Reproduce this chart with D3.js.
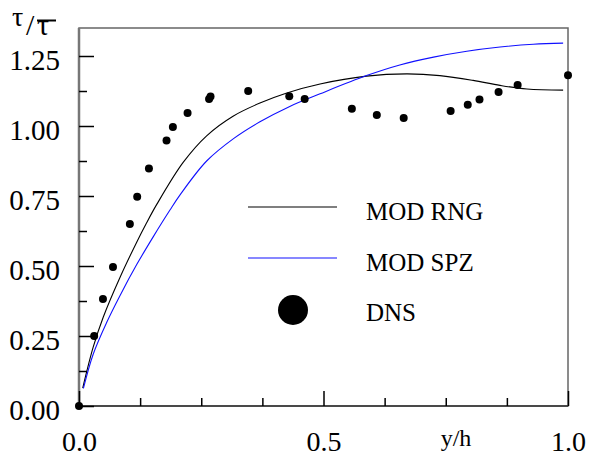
<!DOCTYPE html>
<html>
<head>
<script src="https://d3js.org/d3.v7.min.js"></script>
</head>
<body style="margin:0">
  <script>
    // DNS points (y/h, tau/taubar)
    var dnsX = [0, 0.031, 0.049, 0.0695, 0.104, 0.119, 0.143, 0.179, 0.192, 0.222, 0.266, 0.269,
                0.346, 0.430, 0.4615, 0.558, 0.609, 0.664, 0.760, 0.795, 0.819, 0.858, 0.897, 1.0];
    var dnsY = [0, 0.25, 0.382, 0.496, 0.65, 0.747, 0.848, 0.948, 0.996, 1.046, 1.096, 1.105,
                1.125, 1.106, 1.096, 1.062, 1.039, 1.029, 1.054, 1.076, 1.095, 1.121, 1.146, 1.181];

    // MOD RNG curve
    var rngX = [0.0076, 0.029, 0.0497, 0.084, 0.118, 0.137, 0.159, 0.213, 0.261, 0.315, 0.370,
                0.425, 0.493, 0.588, 0.670, 0.738, 0.806, 0.861, 0.916, 0.990];
    var rngY = [0.064, 0.210, 0.318, 0.460, 0.585, 0.650, 0.720, 0.870, 0.965, 1.035, 1.082,
                1.118, 1.150, 1.178, 1.186, 1.180, 1.163, 1.145, 1.132, 1.128];

    // MOD SPZ curve
    var spzX = [0.009, 0.029, 0.057, 0.084, 0.118, 0.152, 0.186, 0.207, 0.261, 0.316, 0.370,
                0.431, 0.493, 0.588, 0.656, 0.725, 0.793, 0.861, 0.929, 0.990];
    var spzY = [0.063, 0.185, 0.300, 0.395, 0.505, 0.605, 0.700, 0.755, 0.875, 0.955, 1.015,
                1.070, 1.115, 1.180, 1.218, 1.246, 1.267, 1.282, 1.292, 1.296];

    var yMajor = [0, 0.25, 0.5, 0.75, 1.0, 1.25];
    var yMinor = [0.125, 0.375, 0.625, 0.875, 1.125];
    var xMajor = [0, 0.5, 1.0];
    var xMinor = [0.125, 0.25, 0.375, 0.625, 0.75, 0.875];

    var legendNames = ['MOD RNG', 'MOD SPZ', 'DNS'];
    var colors = ['#000000', '#1010ff', '#000000'];

    var width = 591, height = 457;

    var svg = d3.select('body')
      .append('svg')
      .attr('width', width)
      .attr('height', height)
      .style('font-family', 'Times New Roman');

    var x = d3.scaleLinear().domain([0, 1]).range([79, 568]);
    var y = d3.scaleLinear().domain([0, 1.35]).range([406, 28]);

    // frame
    svg.append('rect')
      .attr('x', x(0)).attr('y', y(1.35))
      .attr('width', x(1) - x(0)).attr('height', y(0) - y(1.35))
      .attr('fill', 'none').attr('stroke', '#666').attr('stroke-width', 1.5);
    svg.append('line')
      .attr('x1', x(0)).attr('x2', x(0)).attr('y1', y(1.35)).attr('y2', y(0))
      .attr('stroke', '#777').attr('stroke-width', 2.5);
    svg.append('line')
      .attr('x1', x(0)).attr('x2', x(1)).attr('y1', y(0)).attr('y2', y(0))
      .attr('stroke', '#333').attr('stroke-width', 1.5);

    // Y axis
    var yAxis = svg.append('g')
      .attr('transform', 'translate(' + x(0) + ',0)')
      .call(d3.axisLeft(y).tickValues(yMajor).tickSize(-15).tickPadding(19)
        .tickFormat(d3.format('.2f')));
    yAxis.selectAll('text').attr('font-size', 29).attr('dy', '0.48em');
    svg.append('g')
      .attr('transform', 'translate(' + x(0) + ',0)')
      .call(d3.axisLeft(y).tickValues(yMinor).tickSize(-8).tickFormat(''));

    // X axis
    var xAxis = svg.append('g')
      .attr('transform', 'translate(0,' + y(0) + ')')
      .call(d3.axisBottom(x).tickValues(xMajor).tickSize(-15).tickPadding(25)
        .tickFormat(d3.format('.1f')));
    xAxis.selectAll('text').attr('font-size', 28);
    svg.append('g')
      .attr('transform', 'translate(0,' + y(0) + ')')
      .call(d3.axisBottom(x).tickValues(xMinor).tickSize(-8).tickFormat(''));

    svg.selectAll('.domain').remove();
    svg.selectAll('.tick line').attr('stroke', '#000').attr('stroke-width', 1.5);
    svg.selectAll('g').attr('font-family', null);

    // curves
    var line = d3.line()
      .x(function(d) { return x(d[0]); })
      .y(function(d) { return y(d[1]); })
      .curve(d3.curveCatmullRom.alpha(0.5));

    svg.append('path')
      .datum(d3.zip(rngX, rngY))
      .attr('fill', 'none').attr('stroke', colors[0]).attr('stroke-width', 1.1)
      .attr('d', line);
    svg.append('path')
      .datum(d3.zip(spzX, spzY))
      .attr('fill', 'none').attr('stroke', colors[1]).attr('stroke-width', 1.1)
      .attr('d', line);

    svg.append('g')
      .selectAll('circle')
      .data(d3.zip(dnsX, dnsY))
      .enter().append('circle')
        .attr('cx', function(d) { return x(d[0]); })
        .attr('cy', function(d) { return y(d[1]); })
        .attr('r', 4)
        .attr('fill', colors[2]);

    // legend
    var leg = svg.append('g');
    leg.append('line').attr('x1', 248).attr('x2', 337).attr('y1', 207).attr('y2', 207)
      .attr('stroke', colors[0]).attr('stroke-width', 1.1);
    leg.append('line').attr('x1', 248).attr('x2', 337).attr('y1', 258).attr('y2', 258)
      .attr('stroke', colors[1]).attr('stroke-width', 1.1);
    leg.append('circle').attr('cx', 293).attr('cy', 310).attr('r', 15).attr('fill', colors[2]);
    leg.selectAll('text')
      .data(legendNames)
      .enter().append('text')
        .attr('x', 366)
        .attr('y', function(d, i) { return 220 + i * 50.5; })
        .attr('font-size', 25)
        .text(function(d) { return d; });

    // axis titles
    svg.append('text')
      .attr('x', 456).attr('y', 446)
      .attr('text-anchor', 'middle')
      .attr('font-size', 24)
      .text('y/h');

    var yt = svg.append('text').attr('y', 26);
    yt.append('tspan').attr('x', 12).attr('font-size', 28).text('\u03c4');
    yt.append('tspan').attr('x', 26).attr('y', 35).attr('font-size', 30).text('/');
    yt.append('tspan').attr('x', 37).attr('y', 35).attr('font-size', 30).text('\u03c4');
    svg.append('line').attr('x1', 37).attr('x2', 56).attr('y1', 20.5).attr('y2', 20.5)
      .attr('stroke', '#000').attr('stroke-width', 2);

    svg.selectAll('text')
      .style('font-family', function() { return 'Times New Roman'; })
      .attr('fill', '#000');
  </script>
</body>
</html>
